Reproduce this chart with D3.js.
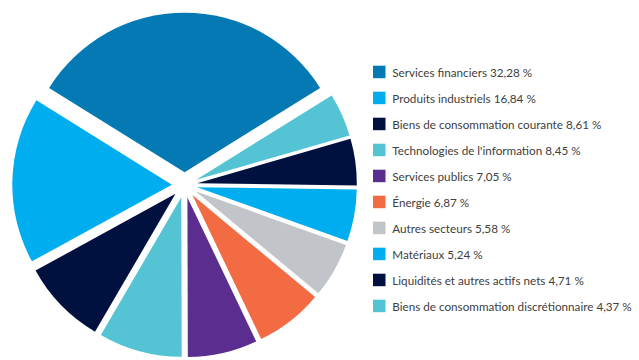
<!DOCTYPE html>
<html>
<head>
<meta charset="utf-8">
<script src="https://cdn.jsdelivr.net/npm/d3@7"></script>
<style>
  html, body { margin: 0; padding: 0; background: #fff; }
  svg { display: block; }
</style>
</head>
<body>
<svg id="chart" width="639" height="360"></svg>
<script>
// Sector weights, in clockwise drawing order starting from the top slice
const sectors = [
  "Services financiers",
  "Biens de consommation discrétionnaire",
  "Liquidités et autres actifs nets",
  "Matériaux",
  "Autres secteurs",
  "Énergie",
  "Services publics",
  "Technologies de l'information",
  "Biens de consommation courante",
  "Produits industriels"
];
const weights = [32.28, 4.37, 4.71, 5.24, 5.58, 6.87, 7.05, 8.45, 8.61, 16.84];
const colors = [
  "#0479b4", "#54c4d4", "#00103f", "#00aeef", "#c1c4c8",
  "#f26b43", "#5b2d8e", "#54c4d4", "#00103f", "#00aeef"
];
// Legend order, by descending weight
const legendOrder = [
  "Services financiers",
  "Produits industriels",
  "Biens de consommation courante",
  "Technologies de l'information",
  "Services publics",
  "Énergie",
  "Autres secteurs",
  "Matériaux",
  "Liquidités et autres actifs nets",
  "Biens de consommation discrétionnaire"
];

const data = sectors.map((name, i) => ({ name, value: weights[i], color: colors[i] }));
const fmt = v => v.toFixed(2).replace(".", ",") + " %";

const svg = d3.select("#chart");
const cx = 184.6, cy = 185, radius = 159.6, explode = 12.7;

// Start so that the largest slice is centred on the top
const firstAngle = weights[0] / d3.sum(weights) * 2 * Math.PI;
const pie = d3.pie()
  .value(d => d.value)
  .sort(null)
  .startAngle(-firstAngle / 2)
  .endAngle(2 * Math.PI - firstAngle / 2);

const arc = d3.arc().innerRadius(0).outerRadius(radius);

svg.append("g")
  .attr("transform", `translate(${cx},${cy})`)
  .selectAll("path")
  .data(pie(data))
  .join("path")
  .attr("d", arc)
  .attr("fill", d => d.data.color)
  .attr("transform", d => {
    const mid = (d.startAngle + d.endAngle) / 2;
    return `translate(${explode * Math.sin(mid)},${-explode * Math.cos(mid)})`;
  });

// Legend
const byName = new Map(data.map(d => [d.name, d]));
const legendY = d3.scalePoint().domain(legendOrder).range([65.7, 299.7]);
const legend = svg.append("g")
  .selectAll("g")
  .data(legendOrder.map(n => byName.get(n)))
  .join("g")
  .attr("transform", d => `translate(373,${legendY(d.name)})`);

legend.append("rect")
  .attr("width", 12.5)
  .attr("height", 12.5)
  .attr("fill", d => d.color);

legend.append("text")
  .attr("x", 19.3)
  .attr("y", 10.8)
  .attr("font-family", "Lato, sans-serif")
  .attr("font-size", 11.7)
  .attr("fill", "#404040")
  .text(d => `${d.name} ${fmt(d.value)}`);
</script>
</body>
</html>
